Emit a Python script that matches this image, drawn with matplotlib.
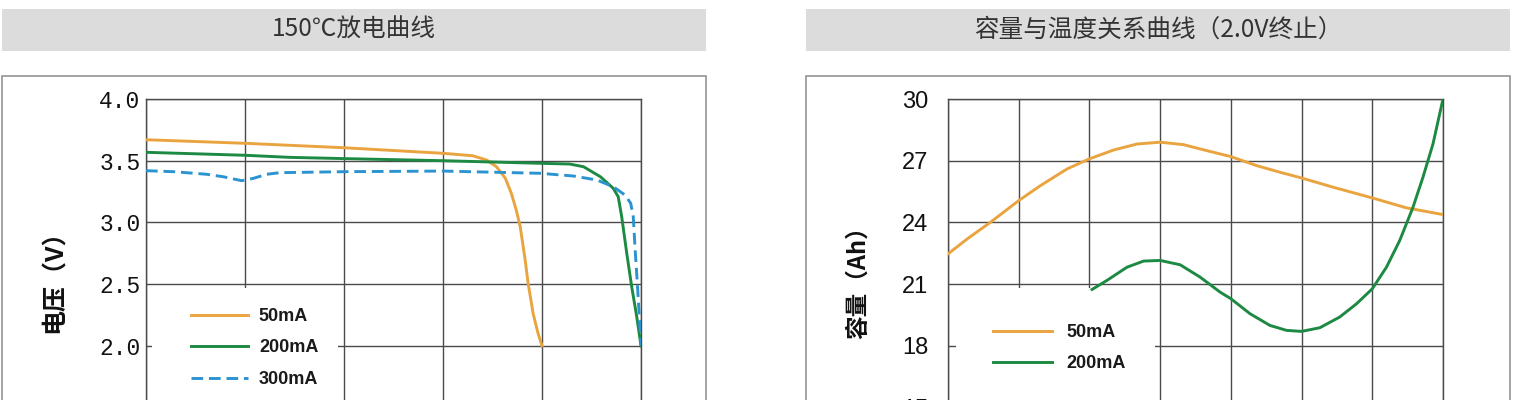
import matplotlib
matplotlib.use('Agg')
import matplotlib.pyplot as plt
from matplotlib import font_manager
from matplotlib.patches import Rectangle
from matplotlib.ticker import FixedLocator, FuncFormatter

# ---------------- data ----------------
left_title = '150℃放电曲线'
right_title = '容量与温度关系曲线（2.0V终止）'
left_ylabel = '电压（V）'
right_ylabel = '容量（Ah）'

left_xticks = [0, 1, 2, 3, 4, 5]
left_yticks = [1.0, 1.5, 2.0, 2.5, 3.0, 3.5, 4.0]
right_xticks = [0, 1, 2, 3, 4, 5, 6, 7]
right_yticks = [12, 15, 18, 21, 24, 27, 30]

left_labels = ['50mA', '200mA', '300mA']
right_labels = ['50mA', '200mA']

# 150C discharge curves (x in grid units, voltage in V)
d50_x = [0, 1, 2, 3, 3.30, 3.44, 3.54, 3.63, 3.69, 3.74, 3.78, 3.83, 3.86, 3.91, 3.96, 4.0]
d50_v = [3.670, 3.641, 3.605, 3.560, 3.540, 3.506, 3.451, 3.357, 3.236, 3.100, 2.965, 2.695,
         2.506, 2.263, 2.101, 2.0]

d200_x = [0, 1, 1.455, 2, 3, 3.98, 4.28, 4.42, 4.59, 4.72, 4.77, 4.805, 4.856, 4.906, 4.957, 5.0]
d200_v = [3.568, 3.544, 3.527, 3.517, 3.500, 3.479, 3.473, 3.451, 3.370, 3.276, 3.208, 3.046,
          2.750, 2.479, 2.236, 2.0]

d300_x = [0, 0.276, 0.613, 0.78, 0.967, 1.085, 1.219, 1.354, 2, 3, 3.98, 4.316, 4.553, 4.72,
          4.838, 4.896, 4.922, 4.939, 4.963, 4.983, 5.0]
d300_v = [3.419, 3.411, 3.390, 3.370, 3.338, 3.357, 3.390, 3.403, 3.411, 3.416, 3.398, 3.376,
          3.344, 3.289, 3.222, 3.155, 3.046, 2.803, 2.506, 2.236, 2.0]

# capacity vs temperature (x in grid units, capacity in Ah)
c50_x = [0, 0.273, 0.602, 1.0, 1.308, 1.684, 2.0, 2.342, 2.672, 3.0, 3.33, 3.66, 4.0, 4.365,
         4.694, 5.0, 5.447, 6.0, 6.48, 7.0]
c50_y = [22.47, 23.20, 24.01, 25.06, 25.79, 26.60, 27.09, 27.52, 27.81, 27.90, 27.78, 27.49,
         27.20, 26.76, 26.44, 26.16, 25.71, 25.19, 24.71, 24.38]

c200_x = [2.037, 2.248, 2.53, 2.766, 3.0, 3.283, 3.565, 3.848, 4.0, 4.271, 4.553, 4.788, 5.0,
          5.259, 5.54, 5.776, 6.0, 6.2, 6.388, 6.576, 6.717, 6.858, 7.0]
c200_y = [20.74, 21.18, 21.82, 22.12, 22.15, 21.94, 21.34, 20.61, 20.29, 19.56, 18.99, 18.75,
          18.70, 18.88, 19.40, 20.04, 20.77, 21.82, 23.12, 24.74, 26.20, 27.81, 30.0]

# ---------------- styles ----------------
C_ORANGE = '#E9A43F'
C_GREEN = '#1C8A42'
C_BLUE = '#2B93D0'
C_GRID = '#4a4a4a'

names = {f.name for f in font_manager.fontManager.ttflist}
CJK = ['Noto Sans CJK SC', 'DejaVu Sans']
if 'Liberation Sans Narrow' in names:
    LEG_FONT = dict(family=['Liberation Sans Narrow', 'DejaVu Sans'], weight='bold', size=13.5)
else:
    LEG_FONT = dict(family=['Liberation Sans', 'DejaVu Sans'], weight='bold', size=13)
MONO = ['Liberation Mono', 'DejaVu Sans Mono']
SANS = ['Liberation Sans', 'DejaVu Sans']

plt.rcParams['font.family'] = CJK

fig = plt.figure(figsize=(15.14, 4.0), dpi=100)
W, H = 1514.0, 400.0


def fx(px):
    return px / W


def fy(py):
    return 1 - py / H


# title bands and frames
for x0, x1, title in [(2, 706, left_title), (806, 1510, right_title)]:
    fig.patches.append(Rectangle((fx(x0), fy(51)), fx(x1 - x0), 42 / H, transform=fig.transFigure,
                                 facecolor='#dcdcdc', edgecolor='none', zorder=0))
    fig.patches.append(Rectangle((fx(x0), fy(500)), fx(x1 - x0), (500 - 76) / H,
                                 transform=fig.transFigure, facecolor='none',
                                 edgecolor='#9c9c9c', lw=1.3, zorder=0))
    fig.text(fx((x0 + x1) / 2), fy(30), title, ha='center', va='center', fontsize=17.7,
             color='#333333', fontweight='light', family=CJK)


def style_axes(ax):
    ax.set_axisbelow(True)
    ax.grid(True, color=C_GRID, lw=1.0)
    for s in ax.spines.values():
        s.set_color(C_GRID)
        s.set_linewidth(1.0)
    ax.tick_params(axis='x', length=0, labelbottom=False)


lw = 2.1

# ---------------- left chart ----------------
axL = fig.add_axes([fx(146), fy(469.2), fx(495), 370.2 / H])
axL.set_xlim(left_xticks[0], left_xticks[-1])
axL.set_ylim(left_yticks[0], left_yticks[-1])
axL.xaxis.set_major_locator(FixedLocator(left_xticks))
axL.yaxis.set_major_locator(FixedLocator(left_yticks))
axL.yaxis.set_major_formatter(FuncFormatter(lambda v, p: '%.1f' % v))
style_axes(axL)
axL.tick_params(axis='y', length=0, pad=4, labelsize=16.5, labelcolor='#111111')
for t in axL.get_yticklabels():
    t.set_family(MONO)

axL.add_patch(Rectangle((0.012, -0.1), 0.376, 0.5895, transform=axL.transAxes,
                        facecolor='white', edgecolor='none', zorder=1.5))
l1, = axL.plot(d50_x, d50_v, color=C_ORANGE, lw=lw, zorder=3, label=left_labels[0])
l2, = axL.plot(d200_x, d200_v, color=C_GREEN, lw=lw, zorder=3, label=left_labels[1])
l3, = axL.plot(d300_x, d300_v, color=C_BLUE, lw=lw, zorder=3, ls=(0, (4, 2)), label=left_labels[2])
legL = axL.legend(handles=[l1, l2, l3], loc='upper left', bbox_to_anchor=(0.0909, 0.4354),
                  frameon=False, borderpad=0, borderaxespad=0, handlelength=3.16,
                  handletextpad=0.6, labelspacing=0.8, prop=LEG_FONT)
for t in legL.get_texts():
    t.set_color('#1a1a1a')

fig.text(fx(55), fy(275), left_ylabel, rotation=90, ha='center', va='center', fontsize=18,
         fontweight='bold', family=CJK, color='#111111')

# ---------------- right chart ----------------
axR = fig.add_axes([fx(948), fy(469.2), fx(495), 370.2 / H])
axR.set_xlim(right_xticks[0], right_xticks[-1])
axR.set_ylim(right_yticks[0], right_yticks[-1])
axR.xaxis.set_major_locator(FixedLocator(right_xticks))
axR.yaxis.set_major_locator(FixedLocator(right_yticks))
axR.yaxis.set_major_formatter(FuncFormatter(lambda v, p: '%d' % v))
style_axes(axR)
axR.tick_params(axis='y', length=0, pad=14, labelsize=17, labelcolor='#111111')
for t in axR.get_yticklabels():
    t.set_family(SANS)

axR.add_patch(Rectangle((0.016, -0.1), 0.402, 0.589, transform=axR.transAxes,
                        facecolor='white', edgecolor='none', zorder=1.5))
r1, = axR.plot(c50_x, c50_y, color=C_ORANGE, lw=lw, zorder=3, label=right_labels[0])
r2, = axR.plot(c200_x, c200_y, color=C_GREEN, lw=lw, zorder=3, label=right_labels[1])
legR = axR.legend(handles=[r1, r2], loc='upper left', bbox_to_anchor=(0.0909, 0.3922),
                  frameon=False, borderpad=0, borderaxespad=0, handlelength=3.27,
                  handletextpad=0.78, labelspacing=0.8, prop=LEG_FONT)
for t in legR.get_texts():
    t.set_color('#1a1a1a')

fig.text(fx(858), fy(277), right_ylabel, rotation=90, ha='center', va='center', fontsize=17,
         fontweight='bold', family=CJK, color='#111111')

fig.savefig('out.png', dpi=100)
